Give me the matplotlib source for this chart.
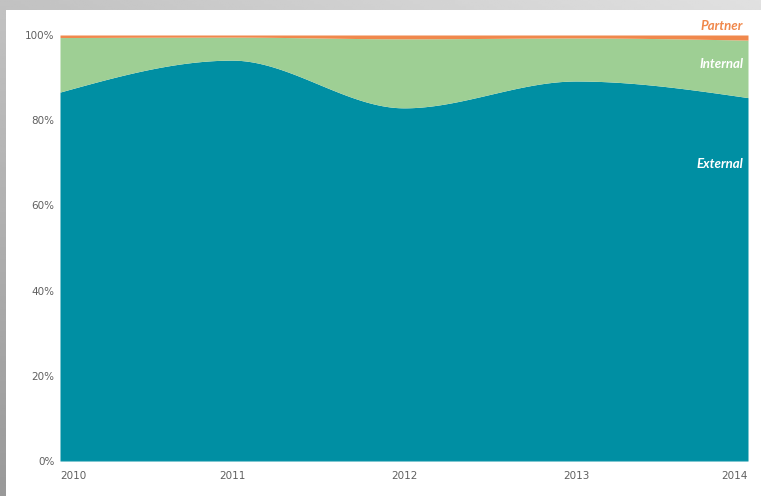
import numpy as np
import matplotlib
matplotlib.use("Agg")
import matplotlib.pyplot as plt
from matplotlib.patches import Rectangle

# ---- data ----
years = [2010, 2011, 2012, 2013, 2014]
external = [86.6, 94.1, 82.9, 89.2, 85.3]
internal = [12.8, 5.4, 16.2, 10.1, 13.5]
partner = [0.6, 0.5, 0.9, 0.7, 1.2]
series_names = ["External", "Internal", "Partner"]
y_ticks = [0, 20, 40, 60, 80, 100]
y_tick_labels = ["0%", "20%", "40%", "60%", "80%", "100%"]

C_EXT = "#008fa3"
C_INT = "#9ecf94"
C_PAR = "#f0884c"


def monotone(x, y, n=300):
    """Monotone cubic (Fritsch-Carlson) rendering of a series, for smooth drawing."""
    x = np.asarray(x, float); y = np.asarray(y, float)
    h = np.diff(x); d = np.diff(y) / h
    m = np.zeros_like(y)
    for i in range(1, len(y) - 1):
        if d[i - 1] * d[i] <= 0:
            m[i] = 0
        else:
            w1 = 2 * h[i] + h[i - 1]; w2 = h[i] + 2 * h[i - 1]
            m[i] = (w1 + w2) / (w1 / d[i - 1] + w2 / d[i])
    m[0] = (3 * d[0] - m[1]) / 2
    m[-1] = (3 * d[-1] - m[-2]) / 2
    xs = np.linspace(x[0], x[-1], n)
    ys = np.empty_like(xs)
    for k, xv in enumerate(xs):
        i = min(np.searchsorted(x, xv, side="right") - 1, len(x) - 2)
        t = (xv - x[i]) / h[i]
        h00 = 2 * t**3 - 3 * t**2 + 1; h10 = t**3 - 2 * t**2 + t
        h01 = -2 * t**3 + 3 * t**2; h11 = t**3 - t**2
        ys[k] = h00 * y[i] + h10 * h[i] * m[i] + h01 * y[i + 1] + h11 * h[i] * m[i + 1]
    return xs, ys


W, H = 761, 496
fig = plt.figure(figsize=(W / 100, H / 100), dpi=100)

# background gradient frame
bg = fig.add_axes([0, 0, 1, 1])
xx, yy = np.meshgrid(np.linspace(0, 1, 200), np.linspace(0, 1, 200))
grad = 0.88 - 0.12 * (1 - xx) - 0.16 * yy
bg.imshow(grad, cmap="gray", vmin=0, vmax=1, extent=[0, W, H, 0], aspect="auto")
bg.add_patch(Rectangle((6, 10), W - 6, H - 10, facecolor="white", edgecolor="none"))
bg.set_xlim(0, W); bg.set_ylim(H, 0); bg.axis("off")

L, R, T, B = 60, 748, 35, 461
ax = fig.add_axes([L / W, (H - B) / H, (R - L) / W, (B - T) / H])
ax.set_facecolor("none")

ext_top = np.array(external)
int_top = ext_top + np.array(internal)
par_top = int_top + np.array(partner)

xs, e = monotone(years, ext_top)
_, i_ = monotone(years, int_top)
_, p = monotone(years, par_top)

ax.fill_between(xs, 0, e, color=C_EXT, linewidth=0)
ax.fill_between(xs, e, i_, color=C_INT, linewidth=0)
ax.fill_between(xs, i_, p, color=C_PAR, linewidth=0)
ax.axhline(0, color="#7fd3dc", linewidth=0.8)

ax.set_xlim(years[0], years[-1])
ax.set_ylim(0, 100)
for s in ax.spines.values():
    s.set_visible(False)
ax.set_yticks(y_ticks)
ax.set_yticklabels(y_tick_labels, fontsize=7.5, color="#606060", family="DejaVu Sans")
ax.tick_params(axis="y", length=0, pad=4)
ax.set_xticks(years)
ax.set_xticklabels([str(y) for y in years], fontsize=7.5, color="#606060", family="DejaVu Sans")
ax.tick_params(axis="x", length=0, pad=7)
xl = ax.get_xticklabels()
xl[0].set_horizontalalignment("left")
xl[-1].set_horizontalalignment("right")

lab_kw = dict(ha="right", va="center", fontsize=9.5, fontweight="bold", style="italic",
              family="Lato", transform=ax.transData)
x_lab = years[-1] - 0.028
ax.text(x_lab, 102.0, series_names[2], color=C_PAR, clip_on=False, **lab_kw)
ax.text(x_lab, 93.3, series_names[1], color="white", **lab_kw)
ax.text(x_lab, 69.8, series_names[0], color="white", **lab_kw)

fig.savefig("out.png", dpi=100)
